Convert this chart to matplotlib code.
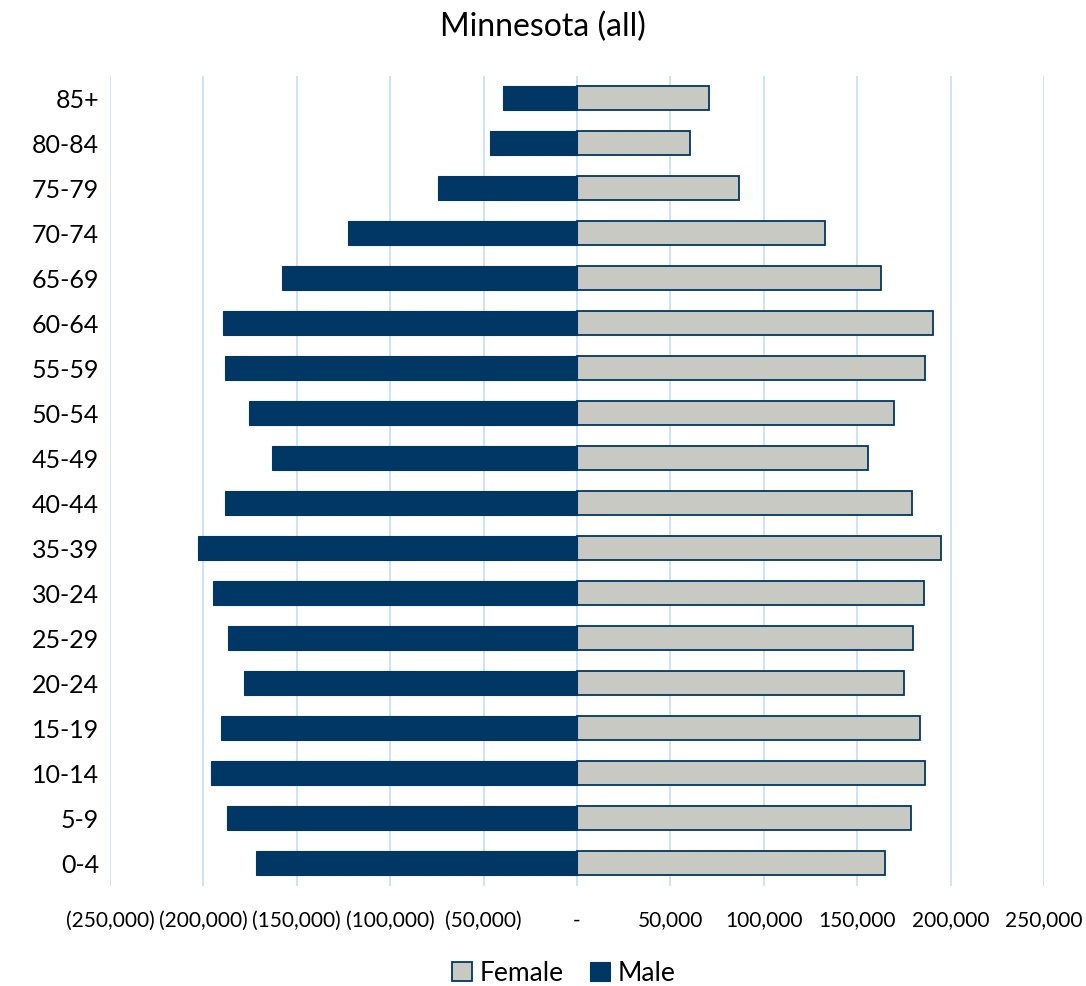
import matplotlib
matplotlib.use("Agg")
import matplotlib.pyplot as plt
from matplotlib.ticker import FuncFormatter, MultipleLocator

plt.rcParams['font.family'] = ['Lato', 'DejaVu Sans']

age_groups = ["0-4", "5-9", "10-14", "15-19", "20-24", "25-29", "30-24", "35-39",
              "40-44", "45-49", "50-54", "55-59", "60-64", "65-69", "70-74",
              "75-79", "80-84", "85+"]
female = [164900, 178800, 186300, 183600, 175000, 179900, 185800, 194900,
          179300, 155800, 169700, 186300, 190600, 162700, 132800, 86700, 60500, 70700]
male = [171800, 187400, 195900, 190600, 178300, 186800, 194900, 202900,
        188400, 163300, 175600, 188400, 189500, 157900, 122600, 74400, 46600, 39600]

fig = plt.figure(figsize=(10.86, 9.86), dpi=100)
ax = fig.add_axes([0.1013, 0.1019, 0.86, 0.8215])

pos = list(range(len(age_groups)))
ax.barh(pos, female, height=0.55, color="#C9C9C4", edgecolor="#003764",
        linewidth=1.3, label="Female", zorder=3)
ax.barh(pos, [-m for m in male], height=0.55, color="#003764", edgecolor="#003764",
        linewidth=0.8, label="Male", zorder=3)

ax.set_xlim(-250000, 250000)
ax.set_ylim(-0.5, len(age_groups) - 0.5)
ax.xaxis.set_major_locator(MultipleLocator(50000))


def fmt(v, p):
    if abs(v) < 1:
        return "-"
    if v < 0:
        return "({:,.0f})".format(-v)
    return "{:,.0f}".format(v)


ax.xaxis.set_major_formatter(FuncFormatter(fmt))
ax.set_yticks(pos)
ax.set_yticklabels(age_groups, fontsize=18)
ax.tick_params(axis='x', labelsize=15, length=0, pad=18)
ax.tick_params(axis='y', length=0, pad=8)
ax.grid(axis='x', color="#CCE3F8", linewidth=1.4, zorder=0)
for s in ax.spines.values():
    s.set_visible(False)

fig.suptitle("Minnesota (all)", fontsize=23, y=0.988)

fig.legend(loc="lower center", ncol=2, bbox_to_anchor=(0.519, -0.024), frameon=False,
           fontsize=19, handlelength=0.75, handleheight=0.75, handletextpad=0.3,
           columnspacing=1.0)

fig.savefig("out.png", dpi=100)
